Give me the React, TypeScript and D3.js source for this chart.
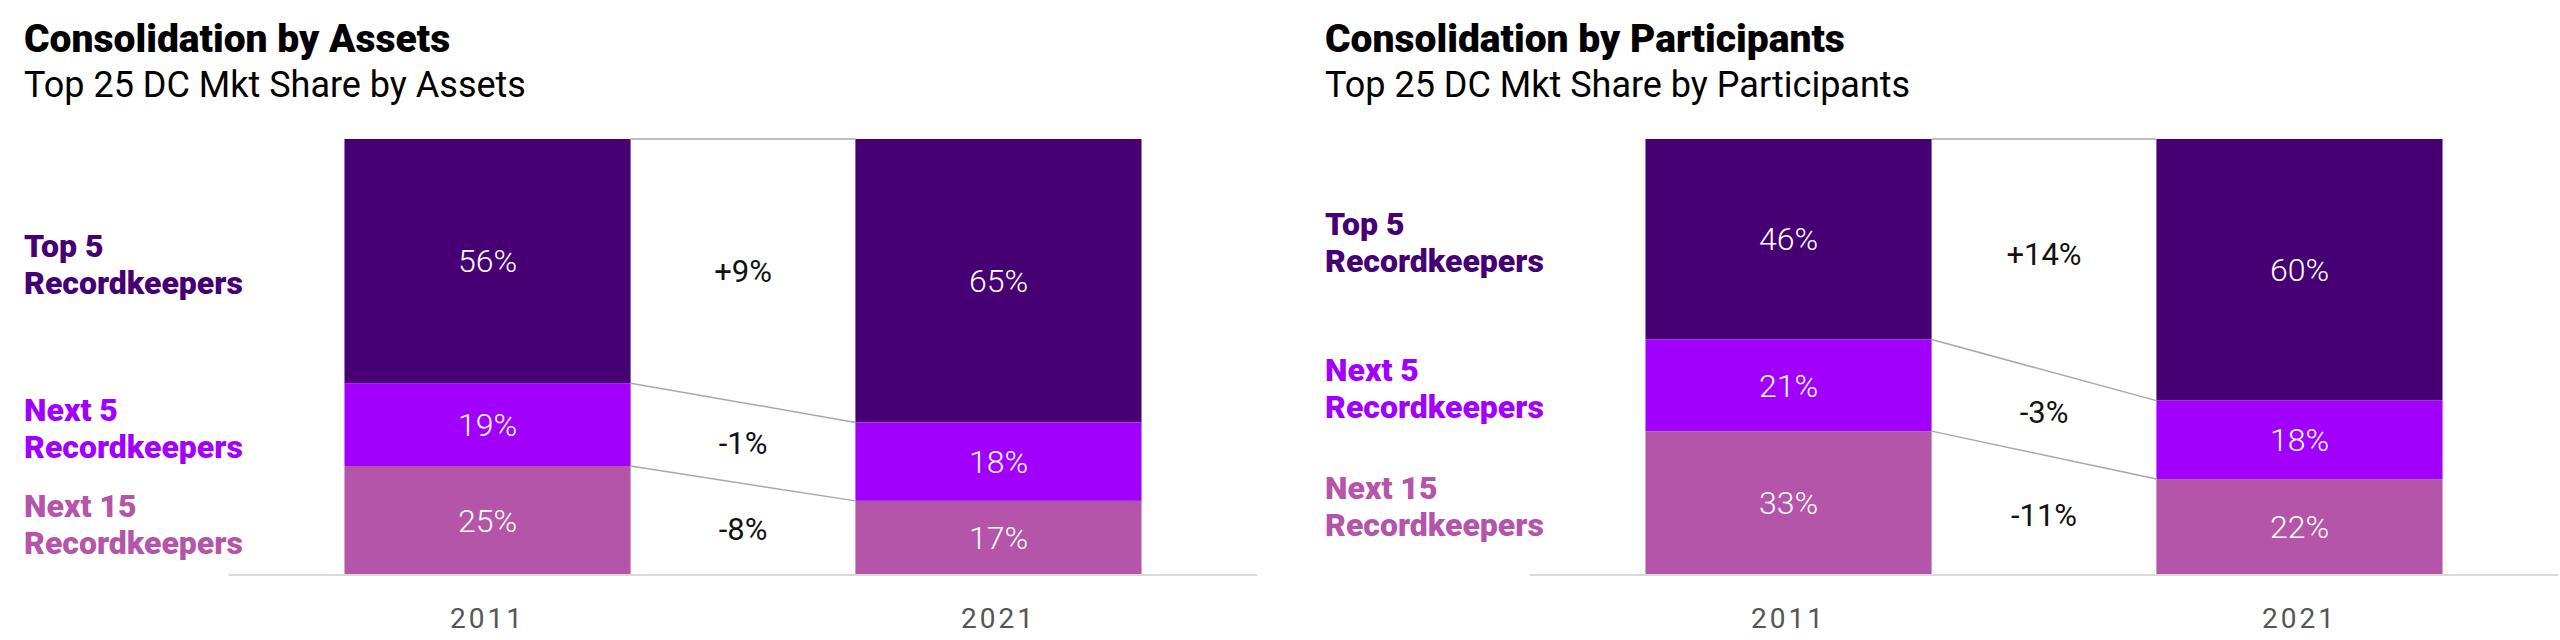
import { useEffect } from "react";
import * as d3 from "d3";

const years = ["2011", "2021"];
const groups = ["Top 5", "Next 5", "Next 15"];
const groupColors = ["#460073", "#A100FF", "#B455AA"];

const assets2011 = [56, 19, 25];
const assets2021 = [65, 18, 17];
const participants2011 = [46, 21, 33];
const participants2021 = [60, 18, 22];

const panels = [
  {
    title: "Consolidation by Assets",
    subtitle: "Top 25 DC Mkt Share by Assets",
    first: assets2011,
    last: assets2021,
    offset: 0,
  },
  {
    title: "Consolidation by Participants",
    subtitle: "Top 25 DC Mkt Share by Participants",
    first: participants2011,
    last: participants2021,
    offset: 1301,
  },
];

const W = 2560;
const H = 640;
const FONT = "Roboto, 'Liberation Sans', Arial, sans-serif";

// top-down boundaries: [top, bottom] of each segment, stacked from 100 down
function stackDown(values: number[]) {
  let top = 100;
  return values.map((v) => {
    const seg = [top, top - v];
    top -= v;
    return seg;
  });
}

function Panel({ p }: { p: (typeof panels)[number] }) {
  const x = d3
    .scaleBand<string>()
    .domain(years)
    .range([229, 1257])
    .paddingInner(0.44)
    .paddingOuter(0.226);
  const y = d3.scaleLinear().domain([0, 100]).range([575, 139]);
  const bw = x.bandwidth();

  const segs = [stackDown(p.first), stackDown(p.last)];
  const x0 = x(years[0])!;
  const x1 = x(years[1])!;
  const gapMid = (x0 + bw + x1) / 2;
  const mid = (s: number[]) => (y(s[0]) + y(s[1])) / 2;

  return (
    <g transform={`translate(${p.offset},0)`}>
      <text x={24} y={52} fontFamily={FONT} fontWeight={900} fontSize={39} fill="#000">
        {p.title}
      </text>
      <text x={24} y={97} fontFamily={FONT} fontWeight={400} fontSize={36} fill="#000">
        {p.subtitle}
      </text>

      {/* stacked bars */}
      {years.map((yr, i) => (
        <g key={yr}>
          {segs[i].map((s, k) => (
            <rect
              key={k}
              x={x(yr)}
              y={y(s[0])}
              width={bw}
              height={y(s[1]) - y(s[0])}
              fill={groupColors[k]}
            />
          ))}
          {segs[i].map((s, k) => (
            <text
              key={"t" + k}
              x={x(yr)! + bw / 2}
              y={mid(s)}
              dy="0.35em"
              textAnchor="middle"
              fontFamily={FONT}
              fontWeight={300}
              fontSize={32}
              fill="#fff"
            >
              {(i === 0 ? p.first : p.last)[k]}%
            </text>
          ))}
          <text
            x={x(yr)! + bw / 2}
            y={628}
            textAnchor="middle"
            fontFamily={FONT}
            fontSize={28}
            letterSpacing={3}
            fill="#555"
          >
            {yr}
          </text>
        </g>
      ))}

      {/* connectors between segment boundaries */}
      {segs[0].map((s, k) => (
        <line
          key={"c" + k}
          x1={x0 + bw}
          x2={x1}
          y1={y(s[0])}
          y2={y(segs[1][k][0])}
          stroke="#a8a8a8"
          strokeWidth={1.5}
        />
      ))}

      {/* baseline */}
      <line x1={229} x2={1257} y1={y(0)} y2={y(0)} stroke="#d9d9d9" strokeWidth={2} />

      {/* change labels */}
      {groups.map((g, k) => {
        const d = p.last[k] - p.first[k];
        return (
          <text
            key={g}
            x={gapMid}
            y={(mid(segs[0][k]) + mid(segs[1][k])) / 2}
            dy="0.35em"
            textAnchor="middle"
            fontFamily={FONT}
            fontWeight={400}
            fontSize={31}
            fill="#111"
          >
            {(d > 0 ? "+" : "") + d}%
          </text>
        );
      })}

      {/* group labels */}
      {groups.map((g, k) => {
        const m = mid(segs[0][k]);
        return (
          <text
            key={"l" + g}
            x={24}
            fontFamily={FONT}
            fontWeight={900}
            fontSize={32}
            fill={groupColors[k]}
          >
            <tspan x={24} y={m - 4}>{g}</tspan>
            <tspan x={24} y={m + 33}>Recordkeepers</tspan>
          </text>
        );
      })}
    </g>
  );
}

export default function App() {
  useEffect(() => {
    document.body.style.margin = "0";
  }, []);
  return (
    <svg width={W} height={H} viewBox={`0 0 ${W} ${H}`} style={{ display: "block", background: "#fff" }}>
      {panels.map((p) => (
        <Panel key={p.title} p={p} />
      ))}
    </svg>
  );
}
